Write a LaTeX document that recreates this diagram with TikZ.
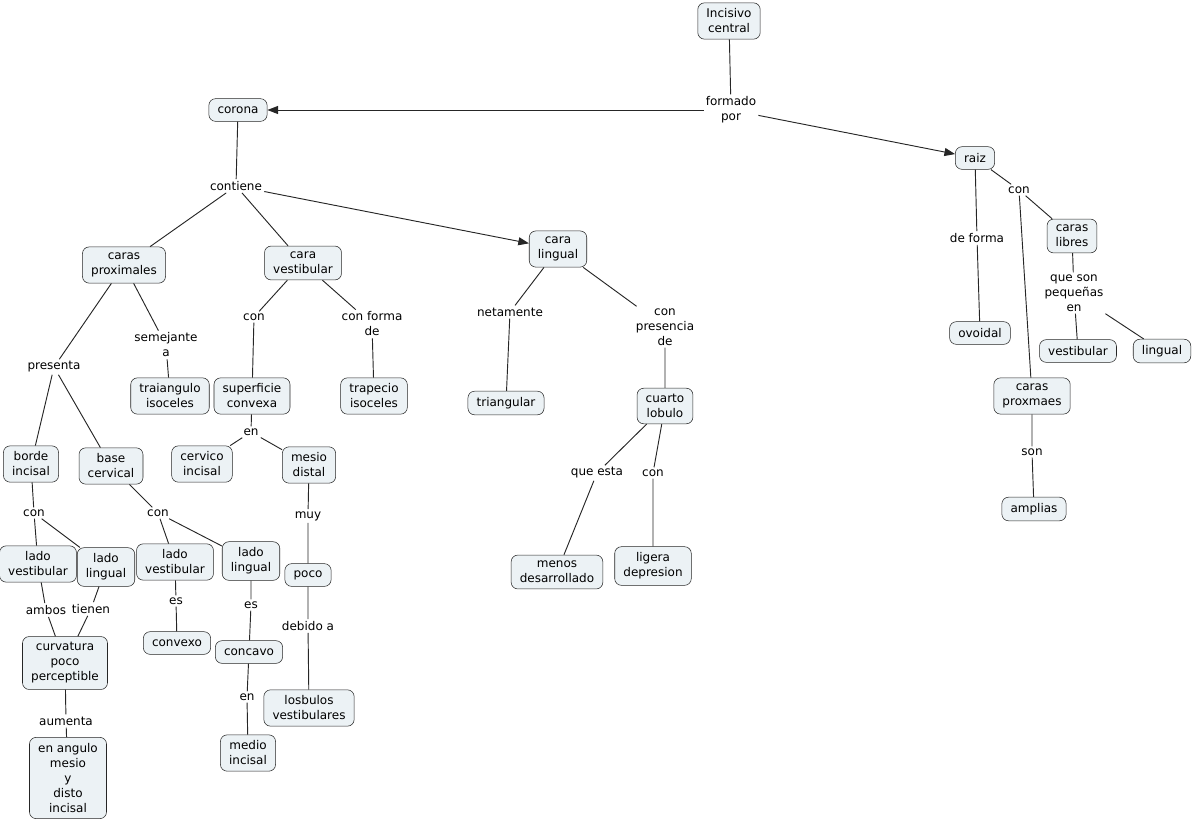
\documentclass[tikz,border=0pt]{standalone}
\usepackage{fontspec}
\setmainfont{DejaVu Sans}
\usetikzlibrary{arrows.meta}
\definecolor{cmapfill}{RGB}{236,242,245}
\newcommand{\cmapfont}{\fontsize{9}{11.25}\selectfont}
\begin{document}
\begin{tikzpicture}[x=0.75pt, y=-0.75pt,
    cbox/.style={draw=black!85, fill=cmapfill, rounded corners=5pt, align=center,
                 inner xsep=6.5pt, inner ysep=4.5pt, minimum height=17pt, font=\cmapfont},
    lphrase/.style={align=center, inner sep=1.5pt, font=\cmapfont},
    conn/.style={draw=black!85, line width=0.7pt},
    arrowconn/.style={conn, -{Triangle[length=8pt,width=6pt]}}]
  \useasboundingbox (0,0) rectangle (1193,822);
  %
  \node[cbox] (incisivo) at (729,21) {Incisivo\\central};      % top
  \node[lphrase] (formado) at (731,110) {formado\\por};
  \node[cbox] (corona) at (238,110) {corona};
  \node[cbox] (raiz) at (975,158) {raiz};
  %
  \node[lphrase] (contiene) at (236,186) {contiene};          % corona
  \node[cbox] (carasprox) at (124,265) {caras\\proximales};
  \node[cbox] (caravest) at (303,263) {cara\\vestibular};
  \node[cbox] (caraling) at (558,249) {cara\\lingual};
  %
  \node[lphrase] (semejante) at (166,345) {semejante\\a};     % caras proximales
  \node[lphrase] (presenta) at (54,367) {presenta};
  \node[cbox] (traiangulo) at (170,396) {traiangulo\\isoceles};
  \node[cbox] (borde) at (31,464) {borde\\incisal};
  \node[cbox] (base) at (111,466) {base\\cervical};
  %
  \node[lphrase] (conbord) at (34,513) {con};                 % borde incisal
  \node[cbox] (ladovestA) at (38,564) {lado\\vestibular};
  \node[cbox] (ladolingA) at (106,567) {lado\\lingual};
  \node[lphrase] (ambos) at (46,610) {ambos};
  \node[lphrase] (tienen) at (91,609) {tienen};
  \node[cbox] (curvatura) at (65,663) {curvatura\\poco\\perceptible};
  \node[lphrase] (aumenta) at (66,721) {aumenta};
  \node[cbox] (angulo) at (68,778) {en angulo\\mesio\\y\\disto\\incisal};
  %
  \node[lphrase] (conbase) at (158,513) {con};                % base cervical
  \node[cbox] (ladovestB) at (175,562) {lado\\vestibular};
  \node[cbox] (ladolingB) at (251,561) {lado\\lingual};
  \node[lphrase] (esvest) at (176,601) {es};
  \node[lphrase] (esling) at (251,605) {es};
  \node[cbox] (convexo) at (177,643) {convexo};
  \node[cbox] (concavo) at (249,652) {concavo};
  \node[lphrase] (enconc) at (247,697) {en};
  \node[cbox] (medio) at (248,753) {medio\\incisal};
  %
  \node[lphrase] (convest) at (254,317) {con};                % cara vestibular
  \node[lphrase] (conforma) at (372,324) {con forma\\de};
  \node[cbox] (superficie) at (252,396) {superficie\\convexa};
  \node[cbox] (trapecio) at (374,396) {trapecio\\isoceles};
  \node[lphrase] (ensup) at (251,432) {en};
  \node[cbox] (cervico) at (202,464) {cervico\\incisal};
  \node[cbox] (mesio) at (309,465) {mesio\\distal};
  \node[lphrase] (muy) at (308,516) {muy};
  \node[cbox] (poco) at (308,575) {poco};
  \node[lphrase] (debido) at (308,626) {debido a};
  \node[cbox] (losbulos) at (309,708) {losbulos\\vestibulares};
  %
  \node[lphrase] (netamente) at (510,312) {netamente};        % cara lingual
  \node[lphrase] (presencia) at (665,327) {con\\presencia\\de};
  \node[cbox] (triangular) at (506,403) {triangular};
  \node[cbox] (cuarto) at (665,406) {cuarto\\lobulo};
  \node[lphrase] (queesta) at (597,473) {que esta};
  \node[lphrase] (concuarto) at (653,473) {con};
  \node[cbox] (menos) at (557,572) {menos\\desarrollado};
  \node[cbox] (ligera) at (653,566) {ligera\\depresion};
  %
  \node[lphrase] (conraiz) at (1019,190) {con};               % raiz
  \node[lphrase] (deforma) at (977,238) {de forma};
  \node[cbox] (libres) at (1072,236) {caras\\libres};
  \node[lphrase] (pequenas) at (1074,293) {que son\\pequeñas\\en};
  \node[cbox] (ovoidal) at (980,333) {ovoidal};
  \node[cbox] (vestibular) at (1078,351) {vestibular};
  \node[cbox] (lingual) at (1162,351) {lingual};
  \node[cbox] (proxmaes) at (1032,396) {caras\\proxmaes};
  \node[lphrase] (son) at (1032,452) {son};
  \node[cbox] (amplias) at (1034,509) {amplias};
  %
  \draw[conn] (incisivo) -- (formado);                       % links
  \draw[arrowconn] (formado) -- (corona);
  \draw[arrowconn] (formado) -- (raiz);
  \draw[conn] (corona) -- (contiene);
  \draw[conn] (contiene) -- (carasprox);
  \draw[conn] (contiene) -- (caravest);
  \draw[arrowconn] (contiene) -- (caraling);
  %
  \draw[conn] (carasprox) -- (semejante) -- (traiangulo);
  \draw[conn] (carasprox) -- (presenta);
  \draw[conn] (presenta) -- (borde);
  \draw[conn] (presenta) -- (base);
  \draw[conn] (borde) -- (conbord);
  \draw[conn] (conbord) -- (ladovestA);
  \draw[conn] (conbord) -- (ladolingA);
  \draw[conn] (ladovestA) -- (ambos) -- (curvatura);
  \draw[conn] (ladolingA) -- (tienen) -- (curvatura);
  \draw[conn] (curvatura) -- (aumenta) -- (angulo);
  \draw[conn] (base) -- (conbase);
  \draw[conn] (conbase) -- (ladovestB);
  \draw[conn] (conbase) -- (ladolingB);
  \draw[conn] (ladovestB) -- (esvest) -- (convexo);
  \draw[conn] (ladolingB) -- (esling) -- (concavo);
  \draw[conn] (concavo) -- (enconc) -- (medio);
  %
  \draw[conn] (caravest) -- (convest) -- (superficie);
  \draw[conn] (caravest) -- (conforma) -- (trapecio);
  \draw[conn] (superficie) -- (ensup);
  \draw[conn] (ensup) -- (cervico);
  \draw[conn] (ensup) -- (mesio);
  \draw[conn] (mesio) -- (muy) -- (poco);
  \draw[conn] (poco) -- (debido) -- (losbulos);
  %
  \draw[conn] (caraling) -- (netamente) -- (triangular);
  \draw[conn] (caraling) -- (presencia) -- (cuarto);
  \draw[conn] (cuarto) -- (queesta) -- (menos);
  \draw[conn] (cuarto) -- (concuarto) -- (ligera);
  %
  \draw[conn] (raiz) -- (deforma) -- (ovoidal);
  \draw[conn] (raiz) -- (conraiz);
  \draw[conn] (conraiz) -- (libres);
  \draw[conn] (conraiz) -- (proxmaes);
  \draw[conn] (libres) -- (pequenas);
  \draw[conn] (pequenas) -- (vestibular);
  \draw[conn] (pequenas) -- (lingual);
  \draw[conn] (proxmaes) -- (son) -- (amplias);
\end{tikzpicture}
\end{document}
